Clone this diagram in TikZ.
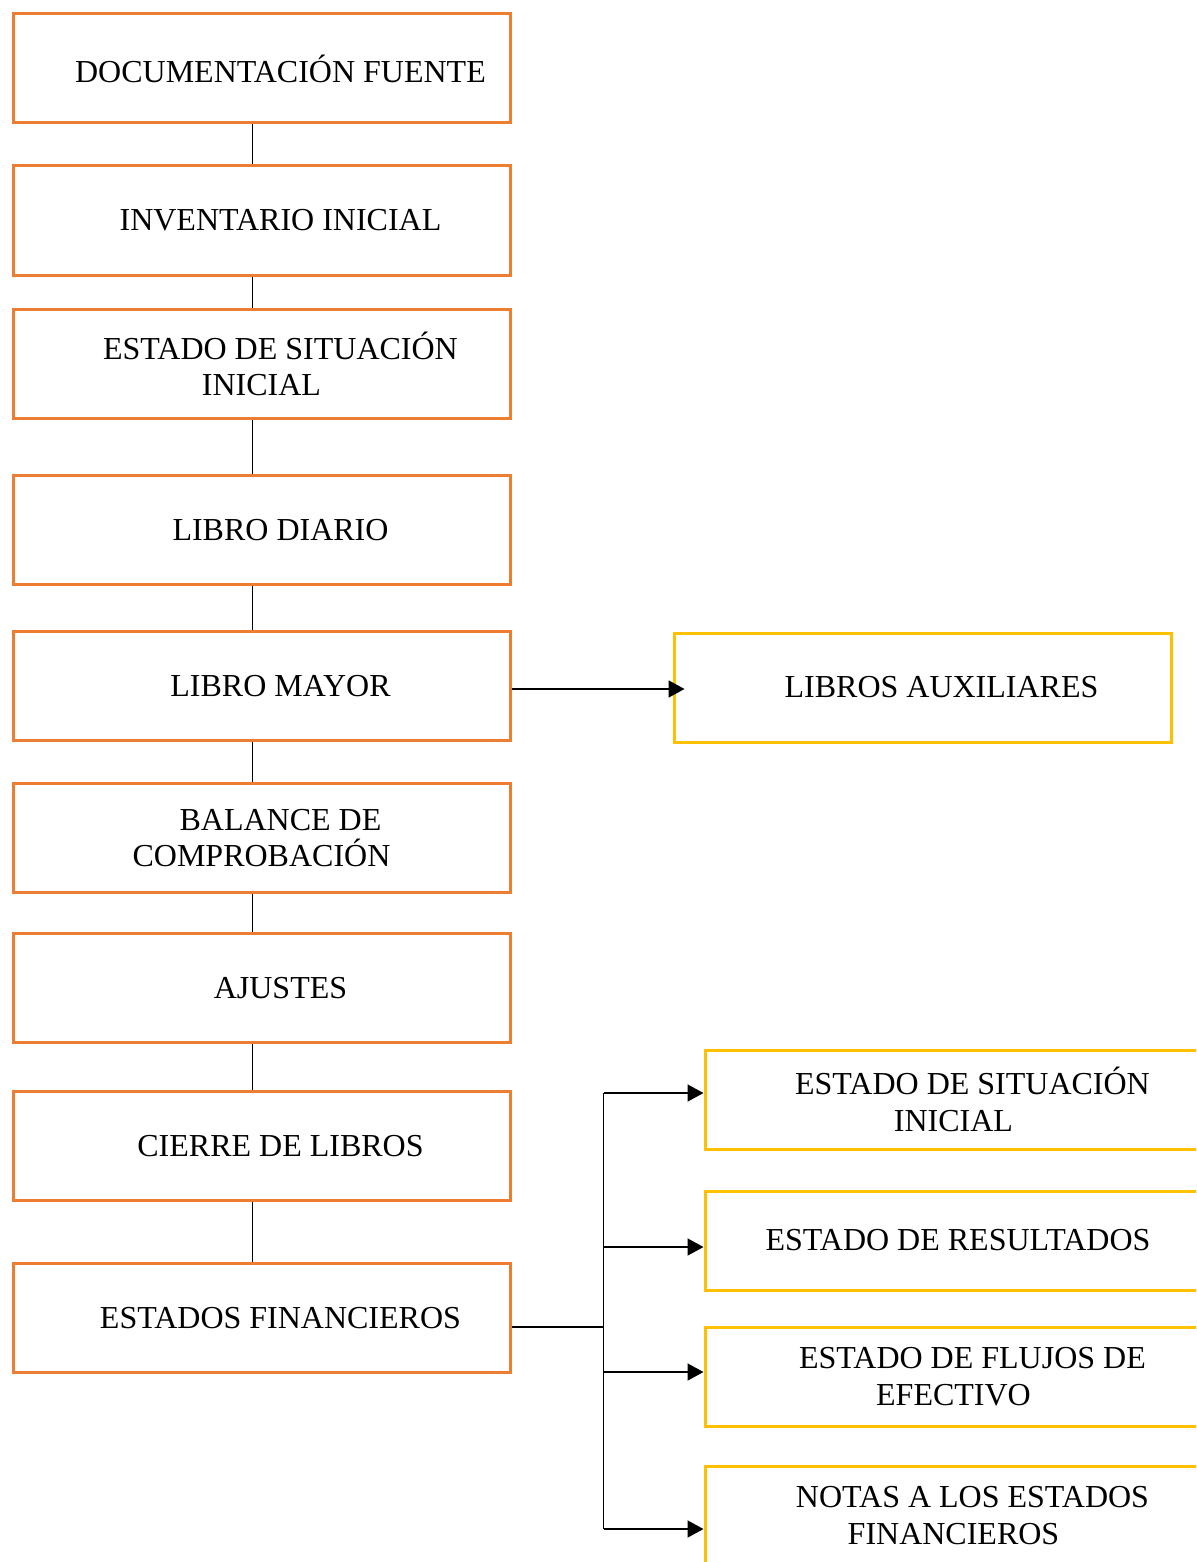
\documentclass[tikz,border=0pt]{standalone}
\usepackage{fontspec}
\setmainfont{Liberation Serif}
\usetikzlibrary{arrows.meta}
\usetikzlibrary{calc}
\usepackage{xcolor}
\definecolor{naranja}{HTML}{ED7D31}
\definecolor{amarillo}{HTML}{FFC000}
\newcommand{\sangria}{\hspace*{19pt}}

\begin{document}
\begin{tikzpicture}[x=0.5pt,y=-0.5pt,
    paso/.style={draw=naranja, line width=1.5pt, minimum width=248.5pt, minimum height=54.5pt,
      align=center, inner sep=0pt, font=\fontsize{16}{18.4}\selectfont},
    libro/.style={paso, draw=amarillo},
    estado/.style={libro, minimum height=49.5pt},
    linea/.style={line width=0.8pt, draw=black},
    flecha/.style={linea, -{Triangle[length=8pt,width=8.5pt]}}]
      \useasboundingbox (0,0) rectangle (1196,1562);
      \clip (0,0) rectangle (1196,1562);

      % Ciclo contable
      \node[paso] (doc) at (261.5,68.5) {\sangria DOCUMENTACIÓN FUENTE};
      \node[paso] (inv) at (261.5,220.5) {\sangria INVENTARIO INICIAL};
      \node[paso] (esi) at (261.5,364) {\sangria ESTADO DE SITUACIÓN\\INICIAL};
      \node[paso] (dia) at (261.5,530) {\sangria LIBRO DIARIO};
      \node[paso] (may) at (261.5,686) {\sangria LIBRO MAYOR};
      \node[paso] (bal) at (261.5,838) {\sangria BALANCE DE\\COMPROBACIÓN};
      \node[paso] (aju) at (261.5,988) {\sangria AJUSTES};
      \node[paso] (cie) at (261.5,1146) {\sangria CIERRE DE LIBROS};
      \node[paso] (fin) at (261.5,1318) {\sangria ESTADOS FINANCIEROS};

      \foreach \a/\b in {doc/inv,inv/esi,esi/dia,dia/may,may/bal,bal/aju,aju/cie,cie/fin}
      {
        \draw[linea] ($(\a.south)+(-9,0)$) -- ($(\b.north)+(-9,0)$);
      }

      % Libros auxiliares
      \node[libro] (aux) at (922.5,687.5) {\sangria LIBROS AUXILIARES};
      \draw[flecha] ($(may.east)+(0,3)$) -- ($(may.east -| aux.west)+(12,3)$);

      % Estados financieros
      \node[estado] (efA) at (953.5,1099.5) {\sangria ESTADO DE SITUACIÓN\\INICIAL};
      \node[estado] (efB) at (953.5,1240.5) {\hspace*{4.5pt}ESTADO DE RESULTADOS};
      \node[estado] (efC) at (953.5,1376.5) {\sangria ESTADO DE FLUJOS DE\\EFECTIVO};
      \node[estado] (efD) at (953.5,1515.5) {\sangria NOTAS A LOS ESTADOS\\FINANCIEROS};

      \coordinate (bus) at ($(fin.east)+(92,9)$);
      \coordinate (busA) at (bus |- 0,1093);
      \coordinate (busD) at (bus |- 0,1529);
      \draw[linea] ($(fin.east)+(0,9)$) -- (bus);
      \draw[linea] (busA) -- (busD);
      \foreach \n/\dy in {efA/-6.5,efB/6.5,efC/-4.5,efD/13.5}
      {
        \draw[flecha] ($(bus |- \n.west)+(0,\dy)$) -- ($(\n.west)+(0,\dy)$);
      }
\end{tikzpicture}
\end{document}
